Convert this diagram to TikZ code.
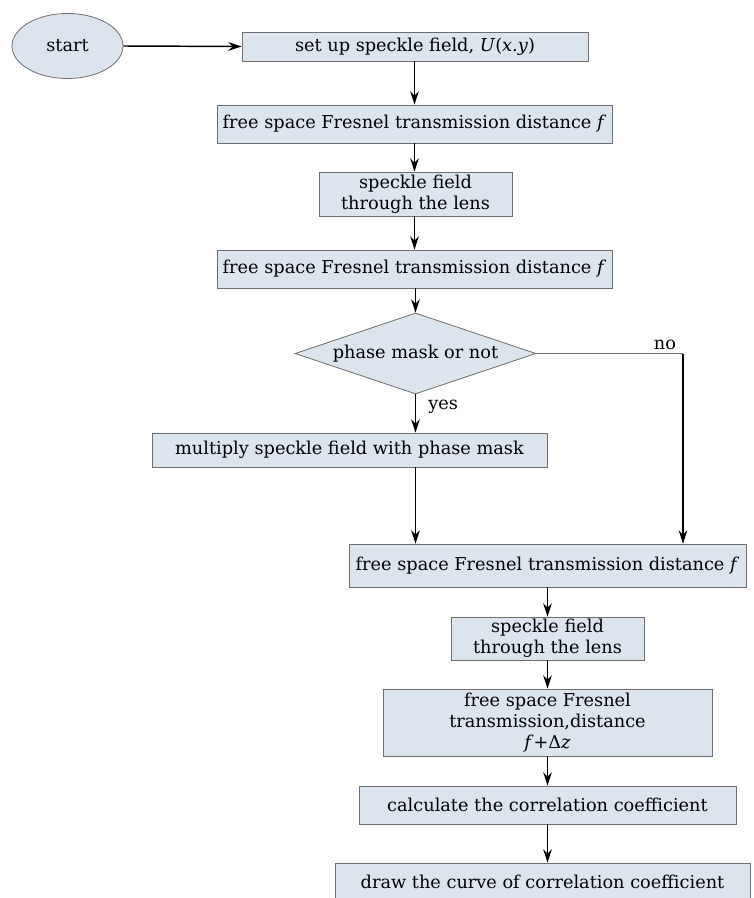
\documentclass[tikz,border=0pt]{standalone}
\usepackage{fontspec}
\setmainfont{DejaVu Serif}
\usetikzlibrary{shapes.geometric,arrows.meta}
\definecolor{boxfill}{RGB}{220,228,238}
\definecolor{boxline}{RGB}{110,110,110}
\newcommand{\vi}[1]{\textit{#1}}
\begin{document}
\begin{tikzpicture}[x=0.75pt,y=-0.75pt,
  every node/.style={font=\fontsize{13.3}{16}\selectfont},
  box/.style={draw=boxline,fill=boxfill,line width=0.6pt,inner sep=0pt,align=center},
  arr/.style={-{Stealth[length=10pt,width=6.5pt]},line width=1.1pt,black},
  lbl/.style={inner sep=0pt}]
\useasboundingbox (0,0) rectangle (753,898);
\node[box,ellipse,minimum width=83.25pt,minimum height=48.75pt] (s) at (67.5,46) {start};
\node[box,minimum width=259.5pt,minimum height=21.75pt] (b1) at (415,46.5) {set up speckle field, \vi{U}(\vi{x.y})};
\node[box,minimum width=296.25pt,minimum height=28.5pt] (b2) at (414.5,124) {free space Fresnel transmission distance \vi{f}};
\node[box,minimum width=144.75pt,minimum height=33pt] (b3) at (415.5,194) {speckle field\\through the lens};
\node[box,minimum width=296.25pt,minimum height=28.5pt] (b4) at (414.5,269) {free space Fresnel transmission distance \vi{f}};
\node[box,diamond,aspect=3,minimum width=180.75pt,minimum height=60.75pt] (d) at (415.5,353.5) {phase mask or not};
\node[box,minimum width=296.25pt,minimum height=25.5pt] (b5) at (349.5,450) {multiply speckle field with phase mask};
\node[box,minimum width=297.75pt,minimum height=32.25pt] (b6) at (547.5,565.5) {free space Fresnel transmission distance \vi{f}};
\node[box,minimum width=144.75pt,minimum height=32.25pt] (b7) at (547.5,638.5) {speckle field\\through the lens};
\node[box,minimum width=246.75pt,minimum height=50.25pt] (b8) at (547.5,722.5) {free space Fresnel\\transmission,distance\\\vi{f}+Δ\vi{z}};
\node[box,minimum width=282.75pt,minimum height=28.5pt] (b9) at (547.5,805) {calculate the correlation coefficient};
\node[box,minimum width=311.25pt,minimum height=27.75pt] (b10) at (542.5,881.5) {draw the curve of correlation coefficient};
\coordinate (nc) at (683,353.5);
\node[lbl,anchor=south] (no) at (665,350) {no};
\node[lbl,anchor=west] (yes) at (428,407) {yes};
\draw[arr] (s.east) -- (b1.west);
\draw[arr] (b1.south -| b2.north) -- (b2.north);
\draw[arr] (b2.south) -- (b3.north -| b2.south);
\draw[arr] (b3.south -| b4.north) -- (b4.north);
\draw[arr] (b4.south -| d.north) -- (d.north);
\draw[arr] (d.south) -- (b5.north -| d.south);
\draw[arr] (b5.south -| d.south) -- (b6.north -| d.south);
\draw[boxline,line width=0.6pt] (d.east) -- (nc);
\draw[arr] (nc) -- (nc |- b6.north);
\draw[arr] (b6.south) -- (b7.north);
\draw[arr] (b7.south) -- (b8.north);
\draw[arr] (b8.south) -- (b9.north);
\draw[arr] (b9.south) -- (b10.north -| b9.south);
\end{tikzpicture}
\end{document}
